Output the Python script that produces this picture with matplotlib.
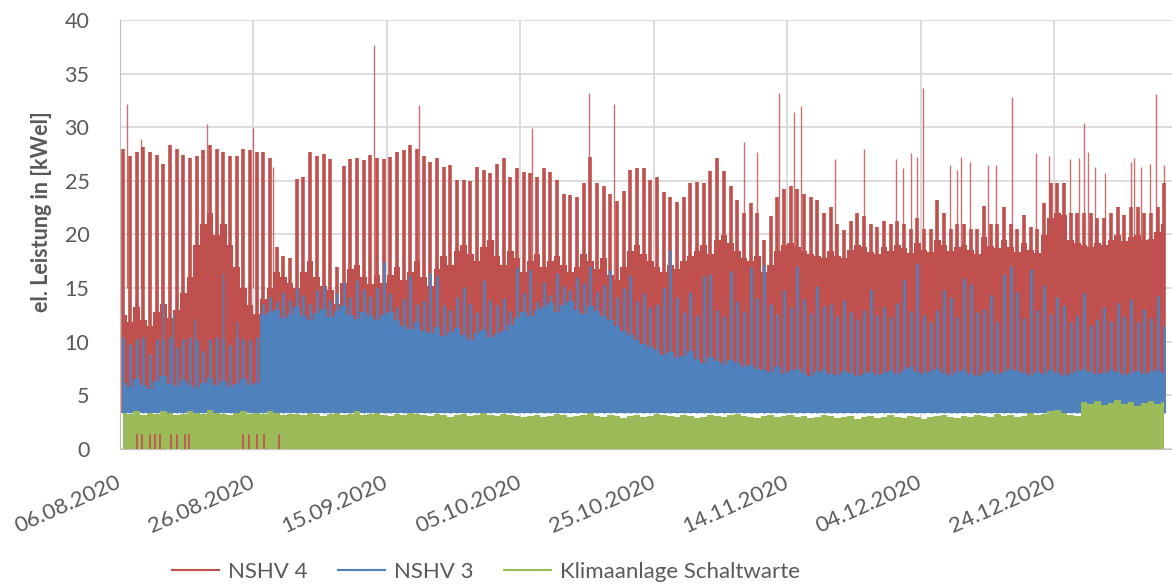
import numpy as np
import pandas as pd
import matplotlib
matplotlib.use("Agg")
import matplotlib.pyplot as plt
from matplotlib.lines import Line2D

plt.rcParams["font.family"] = ["Lato", "DejaVu Sans"]

start = pd.Timestamp("2020-08-06")
x_end = pd.Timestamp("2021-01-10 16:00")
tick_labels = ["06.08.2020", "26.08.2020", "15.09.2020", "05.10.2020",
               "25.10.2020", "14.11.2020", "04.12.2020", "24.12.2020"]

# Tagesspitzen NSHV 4 [kW], ab 06.08.2020
red_peak = [28.0, 27.3, 27.7, 28.2, 27.7, 27.4, 26.6, 28.3, 28.0, 27.4,
            27.1, 27.3, 27.9, 28.3, 28.0, 27.7, 27.3, 27.3, 28.0, 27.9,
            27.7, 27.7, 27.1, 18.8, 18.0, 17.8, 25.2, 25.4, 27.7, 27.3,
            27.5, 27.0, 17.0, 26.4, 27.0, 27.1, 26.9, 27.4, 27.1, 27.0,
            27.2, 27.7, 27.9, 28.3, 28.0, 27.3, 26.8, 27.1, 26.3, 26.5,
            25.1, 25.1, 25.0, 26.3, 26.0, 25.7, 26.6, 27.1, 25.4, 26.2,
            25.8, 25.7, 25.4, 26.2, 25.8, 25.1, 23.8, 23.7, 23.5, 24.8,
            27.2, 24.8, 24.5, 23.8, 23.1, 24.1, 26.0, 26.2, 26.2, 25.1,
            25.4, 24.0, 23.5, 23.0, 23.5, 24.8, 24.9, 24.8, 25.9, 27.1,
            25.9, 24.5, 23.2, 22.0, 22.9, 22.0, 19.5, 21.7, 23.5, 24.2,
            24.5, 24.2, 23.8, 23.5, 23.2, 22.0, 22.6, 21.0, 20.4, 21.3,
            22.0, 21.7, 21.0, 20.7, 21.3, 21.0, 21.3, 21.0, 20.5, 21.5,
            20.5, 20.5, 23.2, 22.0, 20.5, 21.0, 21.0, 20.5, 20.5, 22.7,
            21.0, 21.0, 22.6, 21.0, 20.5, 21.8, 20.7, 20.5, 22.9, 24.8,
            24.8, 24.8, 22.0, 22.0, 22.0, 22.0, 21.5, 21.5, 22.0, 22.6,
            21.8, 22.6, 22.6, 22.0, 22.0, 22.6, 24.8]
# Obergrenze des dichten Bereichs NSHV 4
red_core = [12.5, 11.8, 13.2, 12.0, 11.5, 12.8, 13.5, 12.2, 13.0, 14.5,
            16.0, 19.0, 21.0, 22.0, 20.0, 21.0, 19.0, 17.0, 15.0, 13.4, 12.6,
            14.0, 15.0, 16.5, 16.0, 15.5,
            15.0, 16.5, 17.5, 16.0, 15.2, 14.8, 13.5, 15.5, 16.8, 17.2, 16.0,
            15.4, 16.2,
            15.5, 16.2, 17.0, 15.8, 16.5, 17.5, 16.0, 15.2, 16.8, 18.0, 17.2,
            18.5, 19.0, 18.2, 17.5, 18.8, 19.5, 18.0, 17.2, 18.5, 17.8, 16.5,
            17.5, 18.2, 17.0,
            17.5, 18.0, 17.2, 16.5, 17.0, 18.2, 17.5, 16.8, 17.8, 16.2, 15.8,
            17.0, 18.5, 19.0, 18.2, 17.5, 17.0,
            16.5, 17.2, 16.8, 17.5, 18.0, 18.5, 19.0, 18.2, 19.5, 20.0, 19.2,
            18.5, 17.8, 17.5, 18.0, 16.5, 17.2, 18.5, 19.0, 19.2, 18.8, 18.5,
            18.2, 18.0, 17.8,
            18.5, 18.0, 17.8, 18.6, 19.0, 18.8, 18.4, 18.2, 18.8, 18.5, 19.0,
            18.7, 18.3, 19.2, 18.6, 18.4, 19.5, 19.0, 18.5, 18.8, 19.0, 18.6,
            18.2, 19.8, 18.9, 18.7, 19.5, 18.8, 18.4, 19.2, 18.6, 18.3, 20.0,
            21.5, 22.0, 21.8, 19.5, 19.2, 19.0, 18.8, 19.2, 19.0, 19.5, 20.0,
            19.4, 19.8, 20.0, 19.5, 19.6, 20.2, 21.0]
# einzelne Ausreisser NSHV 4 (Tag ab Start, Wert)
red_spike_day = [1.0, 3.1, 13.0, 20.0, 23.0, 38.0, 44.8, 61.7, 70.3, 74.0,
                 93.5, 95.5, 98.8, 101.0, 102.0, 107.2, 111.5, 116.3, 117.3,
                 118.6, 119.4, 120.3, 124.4, 125.4, 126.1, 127.4, 130.1,
                 131.3, 133.7, 137.3, 139.2, 142.4, 143.7, 144.5, 145.1,
                 146.1, 147.7, 151.5, 151.9, 153.0, 154.4, 155.3, 156.5]
red_spike_val = [32.2, 28.9, 30.3, 29.9, 26.3, 37.7, 32.1, 29.9, 33.2, 32.2,
                 28.6, 27.7, 33.2, 31.4, 32.0, 27.0, 28.0, 27.0, 26.2,
                 27.6, 27.2, 33.7, 26.5, 26.0, 27.2, 26.8, 26.5,
                 26.5, 32.8, 27.6, 27.3, 27.0, 27.1, 30.4, 27.7,
                 26.3, 25.7, 26.8, 27.1, 26.3, 26.6, 33.1, 26.5]
# Ausfaelle auf 0 im August (Tag ab Start)
red_zero_day = [2.5, 3.3, 4.5, 5.2, 6.0, 7.7, 8.6, 9.7, 10.4,
                18.5, 19.4, 20.6, 21.6, 23.8]
red_night = 3.4

# NSHV 3
blue_peak = [10.4, 9.8, 10.3, 10.4, 8.9, 10.3, 10.2, 10.4, 9.5, 10.3,
             10.4, 10.2, 9.1, 10.3, 10.4, 10.3, 9.7, 10.4, 10.3, 10.2, 10.4,
             13.5, 14.2, 13.8, 14.6, 13.9, 15.0, 14.4, 13.6, 14.8, 15.2,
             13.9, 14.5, 15.6, 14.2, 15.8, 14.9, 14.3, 15.1,
             17.4, 14.5, 13.2, 14.0, 16.1, 13.5, 13.8, 16.4, 16.2, 13.4,
             13.0, 14.2, 15.1, 13.6, 12.8, 15.8, 13.9, 13.4, 14.1, 12.9,
             17.0, 14.5, 16.7, 13.8,
             15.6, 14.4, 16.4, 15.2, 14.8, 16.0, 15.5, 17.1, 14.6, 15.3,
             16.7, 14.2, 15.0, 16.2, 13.8, 14.5, 13.2,
             13.5, 15.0, 18.6, 14.2, 12.8, 14.6, 12.5, 16.1, 16.3, 13.0,
             12.4, 16.6, 13.8, 12.9, 17.0, 14.1, 17.2, 13.5, 12.6, 14.8,
             13.2, 17.1, 14.0, 12.7, 15.2, 13.3, 13.5, 12.4, 13.9, 12.8,
             12.1, 13.0, 14.9, 12.5, 13.2, 12.3, 13.6, 15.8, 12.9,
             17.3, 12.5, 11.8, 13.0, 14.8, 14.2, 12.3, 15.9, 15.4, 12.8,
             13.1, 14.4, 11.9, 16.3, 17.1, 14.6, 12.2, 16.8, 13.0, 15.3,
             12.6, 14.2, 13.4, 11.8, 12.5, 14.5, 11.6, 12.1, 13.2, 11.9,
             13.6, 12.4, 14.0, 11.8, 13.1, 12.2, 14.3, 11.5]
blue_core = [6.2, 5.8, 6.5, 6.0, 5.6, 6.3, 6.8, 6.1, 5.9, 6.4, 6.0, 5.7, 6.2,
             6.6, 6.0, 6.3, 5.8, 6.1, 6.5, 6.0, 6.2,
             12.5, 12.8, 13.0, 12.2, 12.6, 13.2, 12.4, 12.0, 12.7, 13.1, 12.3,
             12.9, 13.3, 12.5, 12.1, 12.8, 12.4, 12.0,
             12.5, 12.8, 12.0, 11.5, 11.2, 11.8, 11.0, 10.8, 11.4, 10.5, 10.9,
             11.3, 10.6, 10.2, 10.8, 11.1, 10.4, 10.7, 11.0, 11.6, 12.2, 12.8,
             12.4, 13.0,
             13.2, 13.6, 12.8, 13.4, 13.8, 13.0, 12.6, 13.3, 12.9, 12.4, 12.0,
             11.5, 11.0, 10.6, 10.2, 9.8, 9.5,
             9.2, 8.8, 9.0, 8.5, 8.7, 9.1, 8.4, 8.0, 8.6, 8.2, 7.9, 8.3, 8.0,
             7.6, 7.8, 7.5,
             7.4, 7.2, 7.6, 7.0, 7.3, 7.5, 7.1, 6.8, 7.2, 7.4,
             7.0, 6.9, 7.3, 7.1, 6.8, 7.0, 7.2, 6.9, 7.1, 7.3,
             7.0, 7.4, 7.6, 7.2, 7.0, 7.3, 7.5, 7.1, 6.9, 7.2,
             7.4, 7.0, 6.8, 7.1, 7.3, 7.0, 7.2, 7.5, 7.3, 7.1,
             6.9, 7.2, 7.0, 7.4, 7.1, 6.8, 7.0, 7.3, 7.5, 7.2,
             7.0, 7.1, 7.4, 7.2, 6.9, 7.1, 7.3, 7.0, 7.2, 7.4, 7.1]
blue_spike_day = [6.5, 8.0, 15.4, 11.2, 17.6]
blue_spike_val = [13.6, 12.7, 16.4, 12.1, 11.8]
blue_night = 3.4

# Klimaanlage Schaltwarte
green_peak = [3.4, 3.3, 3.5, 3.2, 3.4, 3.3, 3.5, 3.4, 3.2, 3.3, 3.5, 3.4, 3.3,
              3.6, 3.4, 3.3, 3.2, 3.4, 3.5, 3.3, 3.4, 3.3, 3.5, 3.4, 3.2, 3.3,
              3.3, 3.2, 3.4, 3.3, 3.1, 3.3, 3.4, 3.2, 3.3, 3.5, 3.2, 3.3, 3.4,
              3.2, 3.1, 3.3, 3.2, 3.4, 3.3, 3.2, 3.1, 3.3, 3.2, 3.0, 3.2, 3.3,
              3.1, 3.2, 3.4, 3.2, 3.1, 3.3, 3.2, 3.1, 3.0,
              3.1, 3.2, 3.0, 3.1, 3.3, 3.2, 3.0, 3.1, 3.2, 3.4, 3.1, 3.0, 3.2,
              3.1, 2.9, 3.1, 3.2, 3.0, 3.1, 3.3, 3.2, 3.1, 3.0, 3.2, 3.1, 2.9,
              3.0, 3.2, 3.1, 3.0, 3.2, 3.3, 3.1, 3.0, 2.9, 3.1, 3.2, 3.0, 3.1,
              3.2,
              3.0, 3.1, 2.9, 3.0, 3.2, 3.1, 2.9, 3.0, 3.1, 2.8, 3.0, 3.1, 2.9,
              3.0, 3.2, 3.0, 2.9, 3.1, 3.0, 2.8, 3.0, 3.1, 3.2, 3.0, 2.9, 3.1,
              3.0, 3.2, 3.1, 3.0, 3.3, 3.1, 3.2, 3.0, 3.1, 3.4, 3.2, 3.3, 3.5,
              3.6, 3.4, 3.2, 3.1,
              4.4, 4.2, 4.5, 4.1, 4.3, 4.6, 4.2, 4.4, 4.0, 4.3, 4.5, 4.2, 4.4]

c_red, c_blue, c_green = "#C0504D", "#4F81BD", "#9BBB59"
txt = "#595959"

days = pd.date_range(start, periods=len(red_peak), freq="D") + pd.Timedelta(hours=12)


def at(day_off):
    return start + pd.to_timedelta(day_off, unit="D")


fig = plt.figure(figsize=(11.72, 5.88), dpi=100)
ax = fig.add_axes([120 / 1172, 1 - 449 / 588, 1 - 120 / 1172, 429 / 588])

# NSHV 4
ax.fill_between(days, red_night, red_core, step="mid", color=c_red, lw=0, zorder=2)
ax.vlines(days, red_night, red_peak, color=c_red, lw=2.6, zorder=2)
ax.vlines(at(red_spike_day), 15, red_spike_val, color=c_red, lw=1.0, alpha=0.8, zorder=2)

# NSHV 3
ax.fill_between(days, blue_night, blue_core, step="mid", color=c_blue, lw=0, zorder=3)
ax.vlines(days, blue_night, blue_peak, color=c_blue, lw=1.8, zorder=3)
ax.vlines(at(blue_spike_day), 5, blue_spike_val, color=c_blue, lw=1.0, zorder=3)

# Klimaanlage
ax.fill_between(days, 0, green_peak, step="mid", color=c_green, lw=0, zorder=4)
ax.vlines(at(red_zero_day), 0, 1.4, color=c_red, lw=1.4, alpha=0.85, zorder=5)

ticks = pd.date_range(start, periods=len(tick_labels), freq="20D")
ax.set_xticks(ticks)
ax.set_xticklabels(tick_labels, rotation=24, ha="right", va="center",
                   rotation_mode="anchor", fontsize=16, color=txt)
ax.set_xlim(start, x_end)
ax.set_ylim(0, 40)
ax.set_yticks(np.arange(0, 41, 5))
ax.tick_params(axis="y", labelsize=15.5, labelcolor=txt, length=0, pad=22)
ax.tick_params(axis="x", length=0, pad=23)
ax.grid(True, color="#D9D9D9", lw=1.3)
ax.set_axisbelow(True)
for s in ["top", "right"]:
    ax.spines[s].set_visible(False)
ax.spines["left"].set_color("#BFBFBF")
ax.spines["bottom"].set_color("#BFBFBF")

fig.text(42 / 1172, 1 - 212 / 588, "el. Leistung in [kWel]", rotation=90,
         ha="center", va="center", fontsize=15.5, fontweight="bold", color=txt)

handles = [Line2D([], [], color=c, lw=1.5) for c in (c_red, c_blue, c_green)]
fig.legend(handles, ["NSHV 4", "NSHV 3", "Klimaanlage Schaltwarte"],
           loc="center", bbox_to_anchor=(486 / 1172, 1 - 572 / 588), ncol=3,
           frameon=False, fontsize=16, labelcolor=txt, handlelength=2.1,
           handletextpad=0.4, columnspacing=1.4)

fig.savefig("out.png", dpi=100)
